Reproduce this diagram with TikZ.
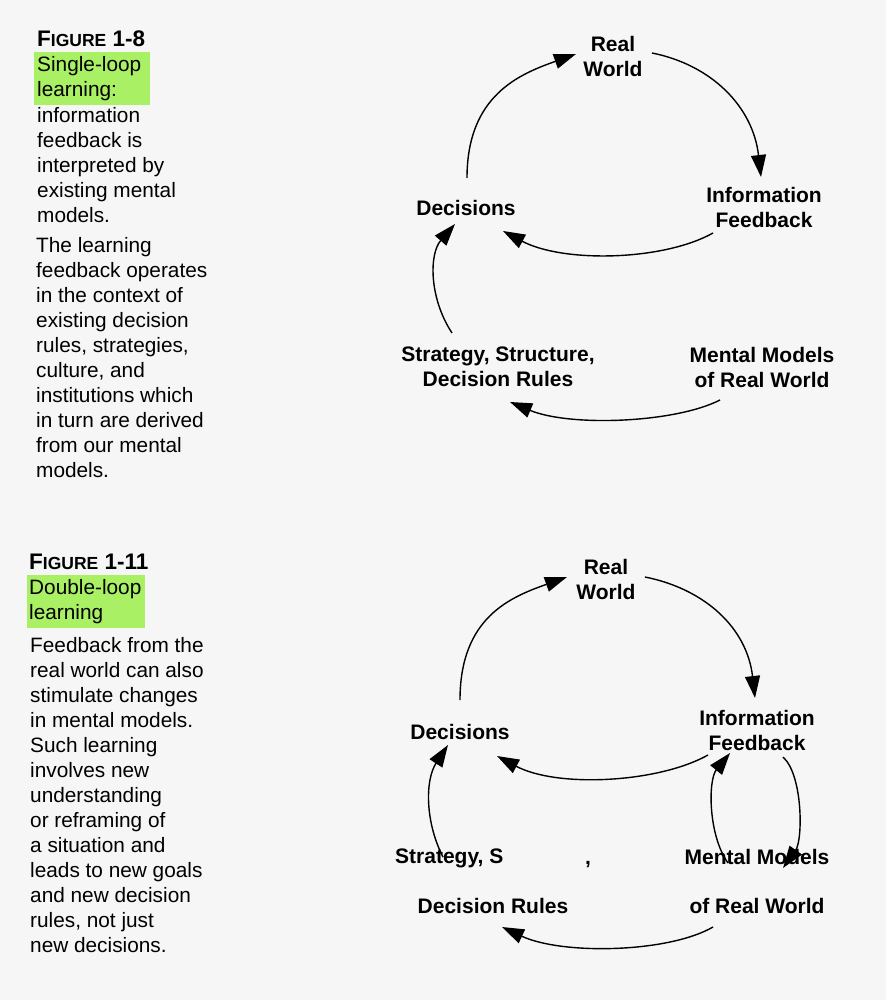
\documentclass[tikz,border=0pt]{standalone}
\usepackage{fontspec}
\setmainfont{Liberation Sans}
\usepackage{xcolor}
\definecolor{pagegray}{RGB}{246,246,246}
\definecolor{hlgreen}{RGB}{170,240,100}
\usetikzlibrary{arrows.meta}

\tikzset{
  lbl/.style={font=\bfseries\fontsize{21}{25}\selectfont, align=center, inner sep=0pt},
  body/.style={font=\fontsize{20.8}{25}\selectfont, align=left, anchor=north west, inner sep=0pt},
  hilite/.style={body, fill=hlgreen, minimum height=53pt},
  figtitle/.style={font=\bfseries\fontsize{22.5}{25}\selectfont, anchor=base west, inner sep=0pt},
  loopy/.style={line width=1.4pt, -{Triangle[length=22pt,width=15pt]}}
}
\newcommand{\figsc}[1]{{\fontsize{17.5}{25}\selectfont #1}}

\begin{document}
\begin{tikzpicture}[x=1pt, y=-1pt]
  % Page
  \fill[pagegray] (0,0) rectangle (886,1000);
  \useasboundingbox (0,0) rectangle (886,1000);

  % --- Figure 1-8: caption ---
  \node[figtitle] (fig1) at (37,47) {F\figsc{IGURE} 1-8};
  \node[hilite, text width=110pt, inner xsep=3pt, inner ysep=0pt] (hl1) at (34,52) {Single-loop\\learning:};
  \node[body] (txt1a) at (37,107) {information\\feedback is\\interpreted by\\existing mental\\models.};
  \node[body] (txt1b) at (36,237) {The learning\\feedback operates\\in the context of\\existing decision\\rules, strategies,\\culture, and\\institutions which\\in turn are derived\\from our mental\\models.};

  % --- Figure 1-8: single loop ---
  \node[lbl] (rw1)  at (613,56)  {Real\\World};
  \node[lbl] (if1)  at (764,207) {Information\\Feedback};
  \node[lbl] (dec1) at (466,208) {Decisions};
  \node[lbl] (ssd1) at (498,367) {Strategy, Structure,\\Decision Rules};
  \node[lbl] (mm1)  at (762,367) {Mental Models\\of Real World};

  \draw[loopy] ([shift={(1,-30)}]dec1.center) .. controls +(0,-83) and +(-56,20) .. ([shift={(-37,-2)}]rw1.center);
  \draw[loopy] ([shift={(39,-3)}]rw1.center) .. controls +(60,12) and +(-8,-70) .. ([shift={(-3,-30)}]if1.center);
  \draw[loopy] ([shift={(-51,26)}]if1.center) .. controls +(-50,28) and +(60,32) .. ([shift={(37,23)}]dec1.center);
  \draw[loopy] ([shift={(-46,-34)}]ssd1.center) .. controls +(-23,-35) and +(-26,30) .. ([shift={(-11,16)}]dec1.center);
  \draw[loopy] ([shift={(-42,33)}]mm1.center) .. controls +(-45,23) and +(60,25) .. ([shift={(12,35)}]ssd1.center);

  % --- Figure 1-11: caption ---
  \node[figtitle] (fig2) at (29,569) {F\figsc{IGURE} 1-11};
  \node[hilite, text width=114pt, inner xsep=2pt, inner ysep=0pt] (hl2) at (27,575) {Double-loop\\learning};
  \node[body] (txt2) at (30,637) {Feedback from the\\real world can also\\stimulate changes\\in mental models.\\Such learning\\involves new\\understanding\\or reframing of\\a situation and\\leads to new goals\\and new decision\\rules, not just\\new decisions.};

  % --- Figure 1-11: double loop ---
  \node[lbl] (rw2)    at (606,579) {Real\\World};
  \node[lbl] (if2)    at (757,730) {Information\\Feedback};
  \node[lbl] (dec2)   at (460,732) {Decisions};
  \node[lbl, anchor=west] (strat2) at (395,858) {Strategy, S};
  \node[lbl, anchor=base] (comma2) at (588,864) {,};
  \node[lbl] (dr2)    at (493,906) {Decision Rules};
  \node[lbl] (mm2)    at (757,881) {Mental Models\\[24pt]of Real World};

  \draw[loopy] ([shift={(0,-32)}]dec2.center) .. controls +(0,-83) and +(-56,20) .. ([shift={(-39,-2)}]rw2.center);
  \draw[loopy] ([shift={(39,-2)}]rw2.center) .. controls +(60,12) and +(-8,-70) .. ([shift={(-2,-32)}]if2.center);
  \draw[loopy] ([shift={(-49,25)}]if2.center) .. controls +(-50,28) and +(60,32) .. ([shift={(37,24)}]dec2.center);
  \draw[loopy] ([shift={(48,-1)}]strat2.west) .. controls +(-18,-35) and +(-23,35) .. ([shift={(-12,13)}]dec2.center);
  \draw[loopy] ([shift={(-44,46)}]mm2.center) .. controls +(-45,26) and +(60,28) .. ([shift={(9,21)}]dr2.center);
  % inner double loop
  \draw[loopy] ([shift={(26,27)}]if2.center) .. controls +(20,18) and +(20,-28) .. ([shift={(26,-13)}]mm2.center);
  \draw[loopy] ([shift={(-29,-18)}]mm2.center) .. controls +(-20,-28) and +(-22,27) .. ([shift={(-27,23)}]if2.center);
\end{tikzpicture}
\end{document}
